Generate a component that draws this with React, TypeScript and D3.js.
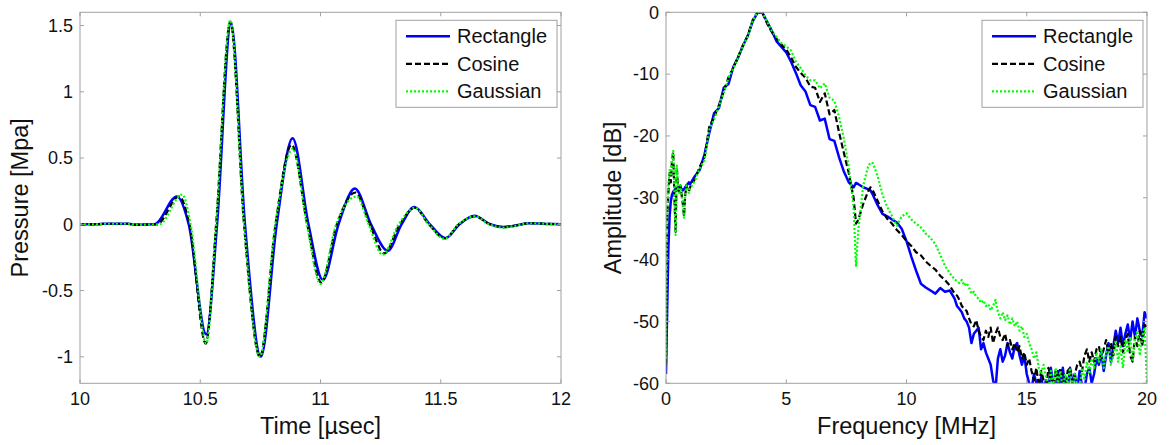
import React, { useEffect, useRef } from 'react'
import * as d3 from 'd3'

// legend / series
const seriesNames = ['Rectangle', 'Cosine', 'Gaussian']
const seriesColors = ['#0000ff', '#000000', '#00ff00']
const seriesDash = ['', '6,3', '2,2']
const seriesWidth = [2.5, 2.2, 2.2]

// ticks
const timeTicks = [10, 10.5, 11, 11.5, 12]
const pressureTicks = [-1, -0.5, 0, 0.5, 1, 1.5]
const freqTicks = [0, 5, 10, 15, 20]
const ampTicks = [-60, -50, -40, -30, -20, -10, 0]

// time domain pulses [time usec, pressure MPa]
const rectanglePulse = [
  [10, 0], [10.07, 0], [10.1, 0.005], [10.2, 0.005], [10.23, -0.003], [10.31, 0],
  [10.403, 0.21], [10.452, 0], [10.525, -0.83], [10.57, 0], [10.628, 1.52], [10.686, 0],
  [10.752, -1.0], [10.818, 0], [10.884, 0.65], [10.95, 0], [11.01, -0.42], [11.075, 0],
  [11.143, 0.27], [11.21, 0], [11.28, -0.2], [11.337, 0], [11.39, 0.13], [11.455, 0],
  [11.52, -0.105], [11.578, 0], [11.64, 0.065], [11.705, 0], [11.76, -0.02], [11.8, -0.012],
  [11.87, 0.008], [11.95, 0.003], [12, 0],
]
const cosinePulse = [
  [10, 0], [10.07, 0], [10.1, 0.004], [10.2, 0.004], [10.23, -0.003], [10.32, 0],
  [10.412, 0.21], [10.455, 0], [10.523, -0.9], [10.566, 0], [10.625, 1.53], [10.682, 0],
  [10.748, -1.0], [10.813, 0], [10.88, 0.6], [10.945, 0], [11.003, -0.44], [11.068, 0],
  [11.145, 0.24], [11.205, 0], [11.265, -0.22], [11.33, 0], [11.392, 0.125], [11.45, 0],
  [11.518, -0.105], [11.575, 0], [11.642, 0.06], [11.705, 0], [11.76, -0.022], [11.8, -0.014],
  [11.87, 0.008], [11.95, 0.003], [12, 0],
]
const gaussianPulse = [
  [10, 0], [10.07, 0], [10.1, 0.004], [10.2, 0.004], [10.23, -0.003], [10.33, 0],
  [10.425, 0.225], [10.46, 0], [10.525, -0.9], [10.566, 0], [10.625, 1.54], [10.682, 0],
  [10.748, -1.0], [10.812, 0], [10.885, 0.57], [10.943, 0], [11.0, -0.45], [11.065, 0],
  [11.15, 0.21], [11.2, 0], [11.258, -0.23], [11.325, 0], [11.392, 0.125], [11.45, 0],
  [11.515, -0.11], [11.573, 0], [11.642, 0.06], [11.7, 0], [11.76, -0.025], [11.8, -0.015],
  [11.87, 0.008], [11.95, 0.003], [12, 0],
]

// spectra: frequency grid (MHz) and amplitude (dB) per window
const freqMHz = [
  0, 0.05, 0.1, 0.15, 0.2, 0.25, 0.3, 0.35, 0.4, 0.45, 0.5, 0.55, 0.6, 0.65, 0.7, 0.75, 0.8, 0.85, 0.9, 0.95, 1.0,
  1.2, 1.4, 1.6, 1.8, 2.0, 2.2, 2.4, 2.6, 2.8, 3.0, 3.2, 3.4, 3.6, 3.8, 4.0,
  4.2, 4.4, 4.6, 4.8, 5.0, 5.2, 5.4, 5.6, 5.8, 6.0, 6.2, 6.4, 6.6, 6.8, 7.0,
  7.2, 7.4, 7.6, 7.8, 7.9, 8.0, 8.2, 8.4, 8.5, 8.6, 8.8, 9.0,
  9.2, 9.4, 9.6, 9.8, 10.0, 10.2, 10.4, 10.6, 10.8, 11.0, 11.2, 11.4, 11.6, 11.8,
  12.0, 12.1, 12.2, 12.3, 12.4, 12.5, 12.6, 12.7, 12.8, 12.9,
  13.0, 13.1, 13.2, 13.3, 13.4, 13.5, 13.6, 13.7, 13.8, 13.9,
  14.0, 14.1, 14.2, 14.3, 14.4, 14.5, 14.6, 14.7, 14.8, 14.9,
  15.0, 15.1, 15.2, 15.3, 15.4, 15.5, 15.6, 15.7, 15.8, 15.9,
  16.0, 16.1, 16.2, 16.3, 16.4, 16.5, 16.6, 16.7, 16.8, 16.9,
  17.0, 17.1, 17.2, 17.3, 17.4, 17.5, 17.6, 17.7, 17.8, 17.9,
  18.0, 18.1, 18.2, 18.3, 18.4, 18.5, 18.6, 18.7, 18.8, 18.9,
  19.0, 19.1, 19.2, 19.3, 19.4, 19.5, 19.6, 19.7, 19.8, 19.9,
  20.0,
]
const rectangleDb = [
  -58.5, -48, -38, -33, -30.5, -29.5, -29, -28.8, -28.5, -28.5, -28.3, -28.5, -28.3, -28.6, -28.8, -28.6, -28.3, -28, -27.8, -27.5, -27.8,
  -26.5, -25.5, -23, -19.5, -16.3, -15.5, -12.2, -11.6, -8.8, -7.3, -5.4, -3.8, -1.5, -0.1, 0,
  -1.5, -3, -4.7, -5.6, -6.5, -8, -9.8, -11.8, -12.8, -15, -15.3, -17.5, -17.2, -20.5, -20.8,
  -23.5, -25.8, -27.5, -28.3, -27.6, -27.8, -28.3, -28.6, -28.8, -29.5, -31.2, -32.6,
  -33, -33.5, -34, -35, -37, -39.5, -41.8, -43.9, -44.5, -45, -45.5, -44.6, -45.2, -45,
  -46.3, -47.5, -48, -48.5, -49.5, -50, -51, -53.5, -52, -51.5,
  -51, -54.5, -53.5, -55, -56, -57, -59.5, -61, -56, -54.5,
  -56.5, -55.5, -53.5, -55, -56, -54, -53.5, -55.5, -57, -55.5,
  -58.5, -60, -61, -58.5, -60, -61, -59, -61, -59.5, -61,
  -57.5, -60, -61, -58, -60.5, -57.5, -60.5, -61, -57.5, -60,
  -58.5, -61, -58, -60.5, -61, -58.5, -57.5, -60, -58.5, -56,
  -57, -55, -58, -55.5, -53.5, -56.5, -54, -51.5, -53.5, -51,
  -54, -52, -50.5, -53, -50, -52.5, -49.5, -51.5, -52.5, -48.5,
  -49.5,
]
const cosineDb = [
  -57, -33, -29, -26, -27.5, -24, -22.6, -30, -35.5, -25, -28.5, -29, -28, -29.5, -31, -33, -29.5, -28, -28.8, -29, -28.3,
  -27, -25, -23.5, -18.5, -17, -15, -12.8, -10.5, -9, -7.2, -5.3, -3.8, -1.3, 0, 0,
  -1.8, -3.2, -4.3, -5.2, -6, -7.3, -8.8, -9.8, -10.6, -12, -12.2, -14.5, -13.1, -16.5, -15.8,
  -19.5, -22.8, -26, -30, -34.2, -33.5, -31, -29, -28.3, -28.8, -30.5, -32.2,
  -33.4, -34.2, -35.2, -36, -37, -37.8, -38.8, -39.3, -40.3, -41, -41.6, -42.6, -43.3, -44.2,
  -45.5, -45.8, -46.5, -47.5, -48, -48.3, -49.5, -50.5, -50.8, -49.8,
  -51.5, -52.5, -53, -51.5, -52.5, -51, -53.5, -52, -51, -52.5,
  -53, -52, -54, -53, -54.5, -53.5, -55, -54, -56, -55,
  -57, -56, -58, -59.5, -57.5, -60.5, -58, -59.5, -61, -57.5,
  -59, -61, -58, -60, -57.5, -59.5, -61, -58, -57.5, -60,
  -58.5, -57, -56.5, -58, -55.5, -54.5, -56.5, -55, -56.5, -54.5,
  -54, -56, -54.5, -53, -55, -53.5, -55.5, -52.5, -54, -52.5,
  -55, -53, -52, -55.5, -56.5, -52.5, -54, -51.5, -54, -50.5,
  -51,
]
const gaussianDb = [
  -56, -32, -28, -25.5, -26.5, -23.5, -22.4, -29.5, -36, -24.8, -28.5, -29.2, -28, -29.5, -31.2, -33.2, -29.5, -28, -28.8, -29.2, -28.5,
  -27.3, -25.2, -24, -19, -17.3, -15.2, -13, -10.6, -9.1, -7.3, -5.4, -3.9, -1.4, 0, 0,
  -1.5, -3, -4, -5, -5.5, -6.2, -8, -9, -10.2, -11, -11, -12.3, -11.5, -13.8, -14.3,
  -17, -20.5, -25, -31.5, -41, -35, -28, -25, -24.3, -24.4, -26.5, -29.5,
  -31.5, -33, -34.5, -33, -32.5, -33.5, -34.2, -34.8, -35.8, -36.5, -37.5, -39.2, -41, -42.2,
  -43.2, -43.5, -43.8, -43.3, -44.2, -43.8, -44.5, -45.5, -45.2, -46,
  -46.3, -47, -46.6, -47.5, -47.2, -48.2, -47.5, -46.5, -48.5, -49.5,
  -48.5, -49.8, -49, -50.5, -49.5, -50.8, -50, -51.5, -50.8, -52.5,
  -52, -53.5, -54.5, -56, -55, -57.5, -58.5, -57, -59, -61,
  -58, -60.5, -57.5, -60, -58, -61, -58.5, -60, -57.5, -61,
  -58.5, -60.5, -61, -57.5, -59.5, -56.5, -58.5, -56, -57.5, -55,
  -56.5, -54.5, -57.5, -55, -54, -57, -55.5, -53, -56.5, -54,
  -57.5, -53, -55, -52.5, -56.5, -53, -51.5, -55.5, -52.5, -51,
  -60,
]

const W = 1169
const H = 445
const TOP = 12.3
const BOTTOM = 383.3
const FONT = 'Liberation Sans, Arial, Helvetica, sans-serif'
const AXIS_GRAY = '#a0a0a0'

function drawPanel(svg, cfg) {
  const x = d3.scaleLinear().domain(cfg.xDomain).range([cfg.left, cfg.right])
  const y = d3.scaleLinear().domain(cfg.yDomain).range([BOTTOM, TOP])
  const g = svg.append('g')

  g.append('clipPath').attr('id', cfg.id + '-clip')
    .append('rect')
    .attr('x', cfg.left).attr('y', TOP)
    .attr('width', cfg.right - cfg.left).attr('height', BOTTOM - TOP)

  const line = d3.line()
    .x((d) => x(d[0]))
    .y((d) => y(d[1]))
    .curve(cfg.curve)

  const plot = g.append('g').attr('clip-path', `url(#${cfg.id}-clip)`)
  cfg.series.forEach((s, i) => {
    plot.append('path')
      .datum(s)
      .attr('d', line)
      .attr('fill', 'none')
      .attr('stroke', seriesColors[i])
      .attr('stroke-width', seriesWidth[i])
      .attr('stroke-dasharray', seriesDash[i] || null)
      .attr('stroke-linejoin', 'round')
  })

  // box
  g.append('rect')
    .attr('x', cfg.left).attr('y', TOP)
    .attr('width', cfg.right - cfg.left).attr('height', BOTTOM - TOP)
    .attr('fill', 'none').attr('stroke', AXIS_GRAY).attr('stroke-width', 1)

  // ticks (inward, all four sides)
  const tl = 4
  cfg.xTicks.forEach((t) => {
    const px = x(t)
    g.append('line').attr('x1', px).attr('x2', px).attr('y1', BOTTOM).attr('y2', BOTTOM - tl).attr('stroke', AXIS_GRAY)
    g.append('line').attr('x1', px).attr('x2', px).attr('y1', TOP).attr('y2', TOP + tl).attr('stroke', AXIS_GRAY)
    g.append('text')
      .attr('x', px).attr('y', 405)
      .attr('text-anchor', 'middle')
      .attr('font-family', FONT).attr('font-size', 18).attr('fill', '#111')
      .text(String(t))
  })
  cfg.yTicks.forEach((t) => {
    const py = y(t)
    g.append('line').attr('x1', cfg.left).attr('x2', cfg.left + tl).attr('y1', py).attr('y2', py).attr('stroke', AXIS_GRAY)
    g.append('line').attr('x1', cfg.right).attr('x2', cfg.right - tl).attr('y1', py).attr('y2', py).attr('stroke', AXIS_GRAY)
    g.append('text')
      .attr('x', cfg.left - 7).attr('y', py).attr('dy', '0.35em')
      .attr('text-anchor', 'end')
      .attr('font-family', FONT).attr('font-size', 18).attr('fill', '#111')
      .text(String(t))
  })

  // axis titles
  g.append('text')
    .attr('x', (cfg.left + cfg.right) / 2).attr('y', 434)
    .attr('text-anchor', 'middle')
    .attr('font-family', FONT).attr('font-size', 23.5).attr('fill', '#111')
    .text(cfg.xLabel)
  g.append('text')
    .attr('transform', `translate(${cfg.left - cfg.yLabelOffset},${(TOP + BOTTOM) / 2}) rotate(-90)`)
    .attr('text-anchor', 'middle')
    .attr('font-family', FONT).attr('font-size', 23.5).attr('fill', '#111')
    .text(cfg.yLabel)

  // legend
  const lw = 161
  const lx = cfg.right - 4 - lw
  const ly = TOP + 8
  const leg = g.append('g')
  leg.append('rect')
    .attr('x', lx).attr('y', ly).attr('width', lw).attr('height', 87)
    .attr('fill', '#fff').attr('stroke', AXIS_GRAY)
  seriesNames.forEach((name, i) => {
    const ey = ly + 16 + i * 27.5
    leg.append('line')
      .attr('x1', lx + 10).attr('x2', lx + 54).attr('y1', ey).attr('y2', ey)
      .attr('stroke', seriesColors[i]).attr('stroke-width', seriesWidth[i])
      .attr('stroke-dasharray', seriesDash[i] || null)
    leg.append('text')
      .attr('x', lx + 61).attr('y', ey).attr('dy', '0.35em')
      .attr('font-family', FONT).attr('font-size', 20).attr('fill', '#111')
      .text(name)
  })
}

function App() {
  const ref = useRef(null)

  useEffect(() => {
    const svg = d3.select(ref.current)
    svg.selectAll('*').remove()

    drawPanel(svg, {
      id: 'time',
      left: 80, right: 561,
      xDomain: [10, 12], yDomain: [-1.2, 1.6],
      xTicks: timeTicks, yTicks: pressureTicks,
      xLabel: 'Time [µsec]', yLabel: 'Pressure [Mpa]', yLabelOffset: 52,
      curve: d3.curveMonotoneX,
      series: [rectanglePulse, cosinePulse, gaussianPulse],
    })

    const spectrum = (vals) => freqMHz.map((f, i) => [f, vals[i]])
    drawPanel(svg, {
      id: 'freq',
      left: 666, right: 1147,
      xDomain: [0, 20], yDomain: [-60, 0],
      xTicks: freqTicks, yTicks: ampTicks,
      xLabel: 'Frequency [MHz]', yLabel: 'Amplitude [dB]', yLabelOffset: 45,
      curve: d3.curveLinear,
      series: [spectrum(rectangleDb), spectrum(cosineDb), spectrum(gaussianDb)],
    })
  }, [])

  return (
    <svg ref={ref} width={W} height={H} viewBox={`0 0 ${W} ${H}`}
      style={{ position: 'absolute', left: 0, top: 0, background: '#fff' }} />
  )
}

export default App
